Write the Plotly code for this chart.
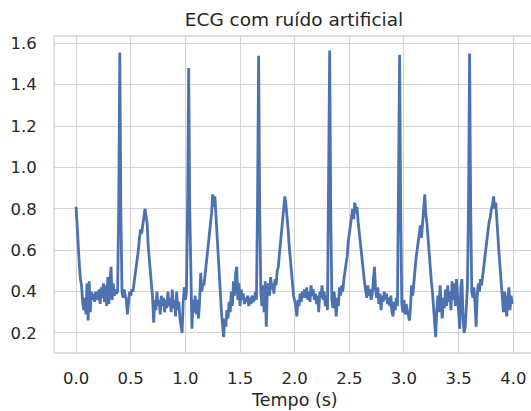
import numpy as np
import plotly.graph_objects as go

# ECG samples (mV-like units), one list per second of recording, 0.01 s apart
ecg_0s = [
    0.81, 0.69, 0.58, 0.53, 0.46, 0.43, 0.35, 0.31, 0.37, 0.29,
    0.44, 0.26, 0.45, 0.30, 0.40, 0.36, 0.39, 0.35, 0.40, 0.38,
    0.36, 0.41, 0.34, 0.42, 0.37, 0.44, 0.35, 0.43, 0.33, 0.47,
    0.34, 0.45, 0.52, 0.36, 0.44, 0.38, 0.41, 0.39, 0.40, 0.80,
    1.555, 0.78, 0.40, 0.37, 0.41, 0.38, 0.36, 0.29, 0.37, 0.40,
    0.38, 0.41, 0.40, 0.44, 0.47, 0.51, 0.55, 0.60, 0.66, 0.70,
    0.68, 0.74, 0.76, 0.80, 0.77, 0.73, 0.62, 0.55, 0.47, 0.41,
    0.37, 0.25, 0.36, 0.31, 0.40, 0.33, 0.36, 0.29, 0.38, 0.33,
    0.37, 0.30, 0.36, 0.32, 0.40, 0.33, 0.37, 0.30, 0.41, 0.32,
    0.36, 0.28, 0.40, 0.31, 0.35, 0.27, 0.22, 0.20, 0.35, 0.42,
]
ecg_1s = [
    0.36, 0.40, 0.80, 1.48, 0.80, 0.38, 0.22, 0.36, 0.30, 0.38,
    0.29, 0.36, 0.27, 0.35, 0.49, 0.40, 0.44, 0.43, 0.48, 0.52,
    0.58, 0.63, 0.70, 0.73, 0.78, 0.87, 0.81, 0.86, 0.76, 0.68,
    0.55, 0.48, 0.40, 0.30, 0.24, 0.18, 0.27, 0.23, 0.31, 0.27,
    0.35, 0.30, 0.40, 0.33, 0.45, 0.38, 0.49, 0.52, 0.36, 0.44,
    0.33, 0.41, 0.36, 0.39, 0.34, 0.37, 0.35, 0.38, 0.33, 0.37,
    0.34, 0.38, 0.35, 0.36, 0.40, 0.36, 0.82, 1.54, 0.80, 0.40,
    0.33, 0.43, 0.30, 0.45, 0.23, 0.40, 0.44, 0.38, 0.47, 0.41,
    0.44, 0.39, 0.46, 0.43, 0.50, 0.52, 0.58, 0.63, 0.70, 0.74,
    0.80, 0.86, 0.82, 0.77, 0.70, 0.62, 0.57, 0.50, 0.44, 0.38,
]
ecg_2s = [
    0.36, 0.33, 0.28, 0.36, 0.33, 0.39, 0.35, 0.40, 0.37, 0.41,
    0.37, 0.42, 0.36, 0.40, 0.35, 0.43, 0.38, 0.41, 0.36, 0.39,
    0.34, 0.38, 0.30, 0.40, 0.37, 0.43, 0.36, 0.40, 0.33, 0.38,
    0.31, 0.82, 1.565, 0.78, 0.36, 0.32, 0.40, 0.35, 0.28, 0.37,
    0.33, 0.42, 0.38, 0.43, 0.40, 0.46, 0.50, 0.53, 0.57, 0.64,
    0.68, 0.72, 0.76, 0.80, 0.75, 0.83, 0.78, 0.81, 0.74, 0.70,
    0.64, 0.59, 0.53, 0.49, 0.44, 0.40, 0.37, 0.43, 0.38, 0.41,
    0.36, 0.39, 0.44, 0.52, 0.41, 0.37, 0.42, 0.34, 0.39, 0.31,
    0.38, 0.35, 0.40, 0.36, 0.39, 0.34, 0.37, 0.33, 0.38, 0.30,
    0.28, 0.35, 0.31, 0.37, 0.33, 0.80, 1.545, 0.78, 0.34, 0.30,
]
ecg_3s = [
    0.36, 0.29, 0.34, 0.31, 0.28, 0.26, 0.33, 0.43, 0.38, 0.46,
    0.50, 0.56, 0.60, 0.64, 0.68, 0.72, 0.66, 0.75, 0.81, 0.87,
    0.77, 0.73, 0.66, 0.58, 0.52, 0.45, 0.40, 0.32, 0.25, 0.18,
    0.31, 0.38, 0.30, 0.43, 0.34, 0.27, 0.37, 0.32, 0.41, 0.33,
    0.43, 0.35, 0.40, 0.31, 0.45, 0.36, 0.44, 0.33, 0.46, 0.37,
    0.30, 0.22, 0.42, 0.46, 0.28, 0.20, 0.23, 0.36, 0.42, 0.80,
    1.55, 0.80, 0.40, 0.37, 0.42, 0.34, 0.23, 0.38, 0.44, 0.40,
    0.46, 0.43, 0.48, 0.50, 0.56, 0.60, 0.66, 0.70, 0.74, 0.76,
    0.80, 0.82, 0.86, 0.80, 0.83, 0.72, 0.66, 0.58, 0.50, 0.43,
    0.38, 0.30, 0.40, 0.33, 0.28, 0.37, 0.42, 0.31, 0.38, 0.34,
]

x_ticks = [0.0, 0.5, 1.0, 1.5, 2.0, 2.5, 3.0, 3.5, 4.0]
y_ticks = [0.2, 0.4, 0.6, 0.8, 1.0, 1.2, 1.4, 1.6]

signal = ecg_0s + ecg_1s + ecg_2s + ecg_3s
fs = 100.0  # samples per second
time = np.arange(len(signal)) / fs

FONT = "DejaVu Sans"
TEXT = "#262626"
GRID = "#d4d4d4"

fig = go.Figure(
    go.Scatter(
        x=time,
        y=signal,
        mode="lines",
        line=dict(color="#4c72b0", width=2.8),
        hoverinfo="skip",
    )
)

axis_common = dict(
    showgrid=True,
    gridcolor=GRID,
    gridwidth=1.2,
    zeroline=False,
    showline=False,
    ticks="outside",
    tickcolor="rgba(0,0,0,0)",
    tickfont=dict(family=FONT, size=16.5, color=TEXT),
)

fig.update_layout(
    width=531,
    height=411,
    margin=dict(l=54, r=0, t=36, b=58),
    paper_bgcolor="white",
    plot_bgcolor="white",
    showlegend=False,
    title=dict(
        text="ECG com ruído artificial",
        font=dict(family=FONT, size=18.5, color=TEXT),
        x=294 / 531,
        xanchor="center",
        xref="container",
        y=1 - 20 / 411,
        yanchor="middle",
        yref="container",
    ),
    xaxis=dict(
        range=[-0.202, 4.162],
        tickvals=x_ticks,
        ticktext=[f"{v:.1f}" for v in x_ticks],
        ticklen=10,
        **axis_common,
    ),
    yaxis=dict(
        range=[0.1031, 1.6352],
        tickvals=y_ticks,
        ticktext=[f"{v:.1f}" for v in y_ticks],
        ticklen=13,
        **axis_common,
    ),
    annotations=[
        dict(
            text="Tempo (s)",
            x=(294 - 54) / 477,
            xref="paper",
            xanchor="center",
            y=-(400 - 353.3) / 317,
            yref="paper",
            yanchor="middle",
            showarrow=False,
            font=dict(family=FONT, size=17.5, color=TEXT),
        )
    ],
    shapes=[
        # frame: left, top and bottom edges
        dict(type="line", xref="paper", yref="paper", x0=0, x1=0, y0=0, y1=1,
             line=dict(color=GRID, width=1.4)),
        dict(type="line", xref="paper", yref="paper", x0=0, x1=1, y0=1, y1=1,
             line=dict(color=GRID, width=1.4)),
        dict(type="line", xref="paper", yref="paper", x0=0, x1=1, y0=0, y1=0,
             line=dict(color=GRID, width=1.4)),
    ],
)

fig.write_html("out.html")
